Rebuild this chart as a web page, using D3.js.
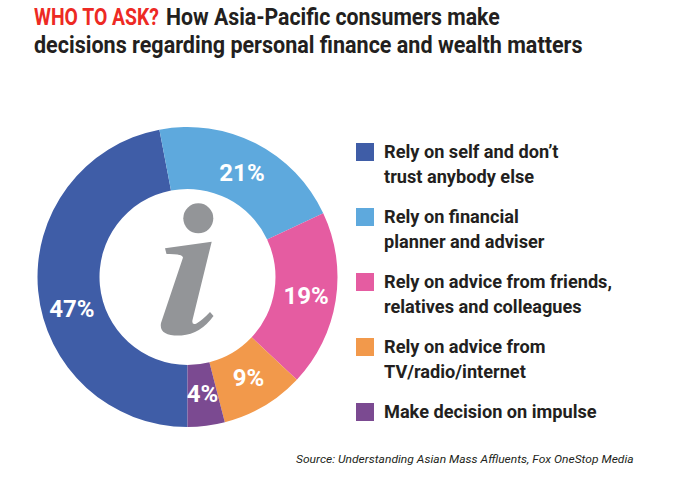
<!DOCTYPE html>
<html>
<head>
<meta charset="utf-8">
<script src="https://cdn.jsdelivr.net/npm/d3@7"></script>
<style>
  body { margin: 0; background: #fff; }
  text { font-family: Roboto, "Liberation Sans", sans-serif; }
</style>
</head>
<body>
<div id="vis"></div>
<script>
// data
var categories = [
  "Rely on self and don\u2019t|trust anybody else",
  "Rely on financial|planner and adviser",
  "Rely on advice from friends,|relatives and colleagues",
  "Rely on advice from|TV/radio/internet",
  "Make decision on impulse"
];
var shares = [47, 21, 19, 9, 4];
var colors = ["#3f5da7", "#5ea9dd", "#e55ca1", "#f2994b", "#7b4a91"];

var width = 675, height = 500;

var svg = d3.select("#vis").append("svg")
    .attr("width", width)
    .attr("height", height);

// squeeze a text horizontally so it spans w pixels from x
function fit(sel, x, y, w) {
  var s = w / sel.node().getComputedTextLength();
  sel.attr("transform", "translate(" + x + "," + y + ") scale(" + s + ",1)");
  return sel;
}

// title, two lines, red kicker
var title = svg.append("g").attr("font-weight", 700).attr("font-size", 23);
fit(title.append("text").attr("fill", "#ed2a24").text("WHO TO ASK?"), 34, 25, 125);
fit(title.append("text").attr("fill", "#231f20").text("How Asia-Pacific consumers make"), 166, 25, 334);
fit(title.append("text").attr("fill", "#231f20")
    .text("decisions regarding personal finance and wealth matters"), 34, 52.5, 549);

// donut
var cx = 187.5, cy = 277, outerR = 150, innerR = 88;

var pie = d3.pie().sort(null).value(function(d) { return d; })
    .startAngle(Math.PI).endAngle(3 * Math.PI);
var arcs = pie(shares);

var arc = d3.arc().innerRadius(innerR).outerRadius(outerR);

var donut = svg.append("g")
    .attr("transform", "translate(" + cx + "," + cy + ")");

donut.selectAll("path.slice")
  .data(arcs)
  .enter()
  .append("path")
    .attr("class", "slice")
    .attr("d", arc)
    .attr("fill", function(d, i) { return colors[i]; });

donut.selectAll("text.pct")
  .data(arcs)
  .enter()
  .append("text")
    .attr("class", "pct")
    .attr("transform", function(d, i) {
      // the big slice label sits a bit lower, clear of the "i"
      var a = (d.startAngle + d.endAngle) / 2 - (i === 0 ? 10 * Math.PI / 180 : 0);
      return "translate(" + (120 * Math.sin(a)) + "," + (-117 * Math.cos(a)) + ")";
    })
    .attr("text-anchor", "middle")
    .attr("dy", "0.36em")
    .attr("fill", "#fff")
    .attr("font-weight", 700)
    .attr("font-size", 24)
    .text(function(d) { return d.data + "%"; });

// the "i" in the hole
var info = donut.append("g").attr("fill", "#939598");
info.append("circle").attr("cx", 10.8).attr("cy", -58.7).attr("r", 15);
info.append("path")
    .attr("d", "M-22.5,-28.7 L24.2,-35.3 L5,43 Q4,48.5 9,46.5 Q15,43 22.5,35 L26,39 " +
               "Q13,57 -6,58.5 Q-29,59.5 -26.5,46 L-4.5,-19.5 Q-5.5,-23.5 -21,-23 Z");

// legend
var legend = svg.append("g").attr("transform", "translate(356,143)");
var rows = legend.selectAll("g.row")
  .data(categories)
  .enter()
  .append("g")
    .attr("class", "row")
    .attr("transform", function(d, i) { return "translate(0," + (i * 65) + ")"; });

rows.append("rect")
    .attr("width", 18).attr("height", 18)
    .attr("fill", function(d, i) { return colors[i]; });

var lines = rows.selectAll("text")
  .data(function(d) { return d.split("|"); })
  .enter()
  .append("text")
    .attr("font-weight", 700)
    .attr("font-size", 18)
    .attr("fill", "#231f20")
    .text(function(d) { return d; });

// squeeze legend text to the condensed look of the original
var longest = lines.filter(function(d) { return d === "Rely on advice from friends,"; }).node();
var sx = 228 / longest.getComputedTextLength();
lines.attr("transform", function(d, i) {
  return "translate(28," + (15 + i * 25) + ") scale(" + sx + ",1)";
});

// source
fit(svg.append("text")
    .attr("font-style", "italic")
    .attr("font-size", 11.5)
    .attr("fill", "#231f20")
    .text("Source: Understanding Asian Mass Affluents, Fox OneStop Media"), 296, 463, 338);
</script>
</body>
</html>
